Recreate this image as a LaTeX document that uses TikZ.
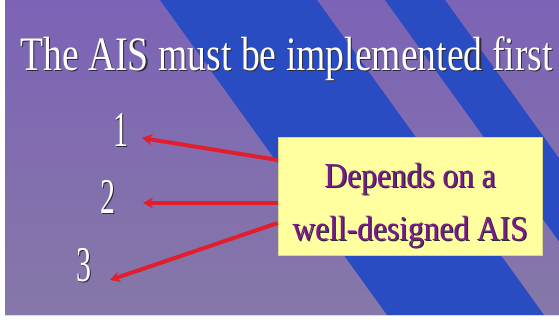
\documentclass[tikz,border=0pt]{standalone}
\usepackage{fontspec}
\setmainfont{Liberation Serif}
\usepackage{graphicx}
\usetikzlibrary{arrows.meta}
\definecolor{bgtop}{HTML}{7C63B6}
\definecolor{bgbot}{HTML}{8678A8}
\definecolor{stripeblue}{HTML}{2A4CC2}
\definecolor{boxfill}{HTML}{FFFFA0}
\definecolor{boxtextc}{HTML}{7A1A8C}
\definecolor{shadowc}{HTML}{2A2A3C}
\definecolor{arrowred}{HTML}{E01E2C}
\newcommand{\shtext}[2]{\makebox[0pt][l]{\raisebox{-1.4pt}{\kern1.4pt\textcolor{shadowc}{#2}}}\textcolor{#1}{#2}}
\begin{document}
\begin{tikzpicture}[x=1pt,y=-1pt,
  titletext/.style={inner sep=0pt, anchor=base west, font=\fontsize{48}{48}\selectfont},
  numtext/.style={inner sep=0pt, anchor=base, font=\fontsize{50}{50}\selectfont},
  callout/.style={fill=boxfill, draw=boxfill!85!black, line width=0.4pt, minimum width=264pt, minimum height=118pt, inner sep=0pt},
  callouttext/.style={inner sep=0pt, align=center, text=boxtextc, font=\fontsize{35}{53}\selectfont},
  redarrow/.style={draw=arrowred, line width=4pt, -{Stealth[length=10pt,width=11pt]}}
]
\useasboundingbox (0,0) rectangle (559,322);
\fill[white] (0,0) rectangle (559,322);
% background
\shade[top color=bgtop, bottom color=bgbot] (5,0) rectangle (559,315);
\begin{scope}
  \clip (5,0) rectangle (559,315);
  \fill[stripeblue] (160,0) -- (317,0) -- (544,315) -- (387,315) -- cycle;
  \fill[stripeblue] (385,0) -- (445,0) -- (672,315) -- (612,315) -- cycle;
\end{scope}
\draw[black!15, line width=0.6pt] (5,315.3) -- (559,315.3);
% title
\node[titletext] (title) at (20,70) {\scalebox{0.785}[1]{\shtext{white}{The AIS must be implemented first}}};
% numbers
\node[numtext] (n1) at (121,146) {\scalebox{0.6}[1]{\shtext{white}{1}}};
\node[numtext] (n2) at (108,213) {\scalebox{0.6}[1]{\shtext{white}{2}}};
\node[numtext] (n3) at (84,281) {\scalebox{0.6}[1]{\shtext{white}{3}}};
% callout box
\node[callout] (box) at (410,196) {};
\node[callouttext] (boxtext) at (410,206) {\scalebox{0.9}[1]{\shtext{boxtextc}{Depends on a}}\\\scalebox{0.9}[1]{\shtext{boxtextc}{well-designed AIS}}};
% arrow tips
\coordinate (t1) at (142,138);
\coordinate (t2) at (143,203);
\coordinate (t3) at (110,280);
\draw[redarrow] ([yshift=36pt]box.west) -- (t1);
\draw[redarrow] ([yshift=-7pt]box.west) -- (t2);
\draw[redarrow] ([yshift=-27pt]box.west) -- (t3);
\end{tikzpicture}
\end{document}
